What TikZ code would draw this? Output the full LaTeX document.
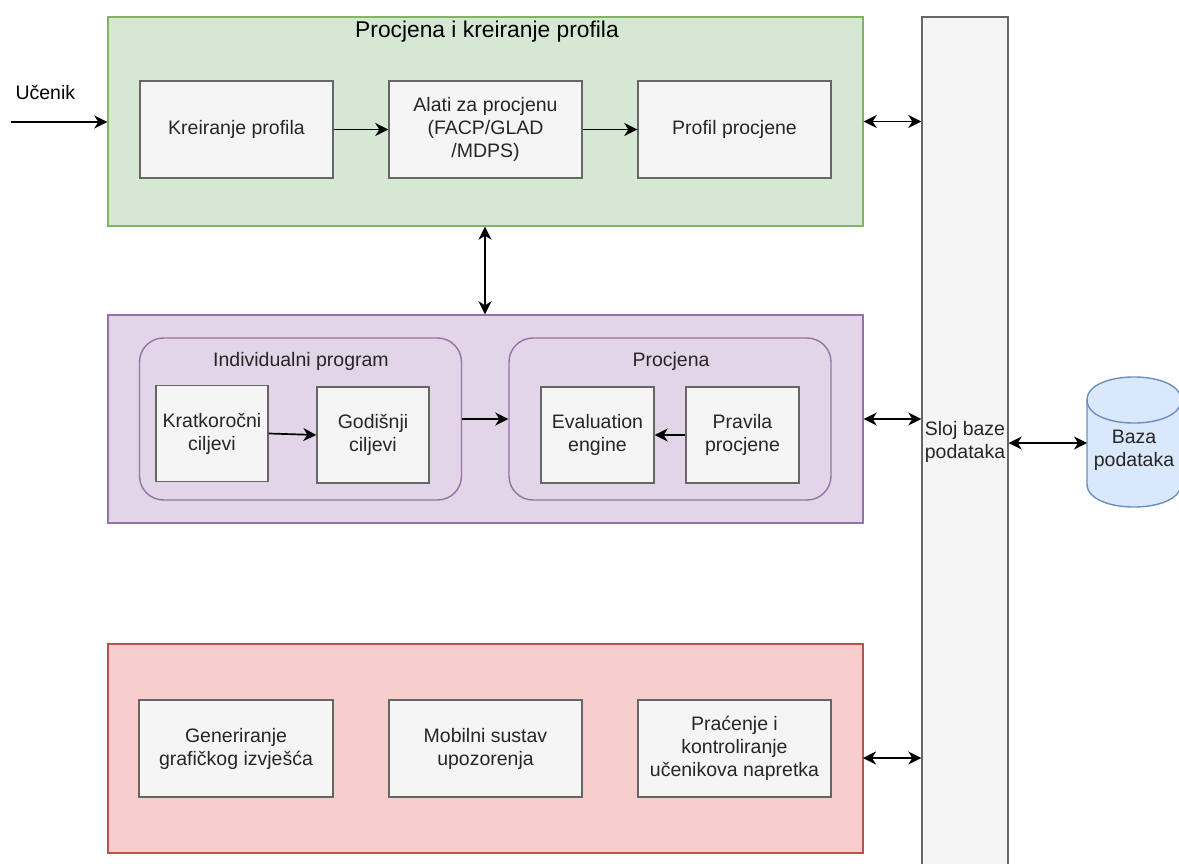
\documentclass[tikz,border=0pt]{standalone}
\usepackage{fontspec}
\setmainfont{Liberation Sans}
\usetikzlibrary{arrows.meta}
\definecolor{gfill}{HTML}{D5E8D4}
\definecolor{gline}{HTML}{82B366}
\definecolor{pfill}{HTML}{E1D5E7}
\definecolor{pline}{HTML}{9673A6}
\definecolor{rfill}{HTML}{F8CECC}
\definecolor{rline}{HTML}{B85450}
\definecolor{boxfill}{HTML}{F5F5F5}
\definecolor{boxline}{HTML}{666666}
\definecolor{boxtext}{HTML}{262626}
\definecolor{cfill}{HTML}{DAE8FC}
\definecolor{cline}{HTML}{6C8EBF}
\begin{document}
\begin{tikzpicture}[x=1pt,y=-1pt,
  txt/.style={font=\fontsize{19.5}{23}\selectfont, text=black},
  box/.style={draw=boxline, fill=boxfill, line width=1.4pt, inner sep=2pt, align=center,
    text=boxtext, font=\fontsize{19.5}{23}\selectfont},
  widebox/.style={box, minimum width=193pt, minimum height=97pt},
  smallbox/.style={box, minimum width=112pt, minimum height=96pt},
  container/.style={line width=1.4pt, minimum width=755pt, minimum height=209pt, inner sep=0pt},
  group/.style={draw=pline, fill=pfill, line width=1.4pt, rounded corners=24pt,
    minimum width=322pt, minimum height=162pt, inner sep=0pt},
  tip/.style={Stealth[length=13pt,width=13pt,inset=4pt]},
  arr/.style={line width=1.7pt, -{Stealth[length=13pt,width=13pt,inset=4pt]}},
  darr/.style={line width=1.7pt, {Stealth[length=13pt,width=13pt,inset=4pt]}-{Stealth[length=13pt,width=13pt,inset=4pt]}}
]
\useasboundingbox (0,0) rectangle (1179,864);
\fill[white] (0,0) rectangle (1179,864);

% containers
\node[container, draw=gline, fill=gfill] (green) at (485.5,121.5) {};
\node[container, draw=pline, fill=pfill, minimum height=208pt] (purple) at (485.5,419) {};
\node[container, draw=rline, fill=rfill] (red) at (485.5,748.5) {};

% database layer
\node[box, minimum width=86pt, minimum height=850pt, inner sep=0pt] (layer) at (965,442) {Sloj baze\\podataka};

% green content
\node[txt, font=\fontsize{22.8}{26}\selectfont] (gtitle) at (487,32) {Procjena i kreiranje profila};
\node[widebox] (kp) at (236.5,129.5) {Kreiranje profila};
\node[widebox] (alati) at (485.5,129.5) {Alati za procjenu\\(FACP/GLAD\\/MDPS)};
\node[widebox] (pp) at (734.5,129.5) {Profil procjene};

% purple content
\node[group] (ip) at (300.5,419) {};
\node[group] (pg) at (670,419) {};
\node[txt, text=boxtext] (iptitle) at (301,361) {Individualni program};
\node[txt, text=boxtext] (pgtitle) at (671,361) {Procjena};
\node[smallbox] (kc) at (212,433.5) {Kratkoročni\\ciljevi};
\node[smallbox] (gc) at (373,435) {Godišnji\\ciljevi};
\node[smallbox, minimum width=113pt] (ee) at (597.5,435) {Evaluation\\engine};
\node[smallbox, minimum width=113pt] (pr) at (742.5,435) {Pravila\\procjene};

% red content
\node[widebox, minimum width=194pt] (gen) at (236,748.5) {Generiranje\\grafičkog izvješća};
\node[widebox] (mob) at (485.5,748.5) {Mobilni sustav\\upozorenja};
\node[widebox] (prac) at (734.5,748.5) {Praćenje i\\kontroliranje\\učenikova napretka};

% cylinder
\draw[draw=cline, fill=cfill, line width=1.4pt]
  (1087,400) -- (1087,484) .. controls (1087,514.7) and (1181,514.7) .. (1181,484)
  -- (1181,400) .. controls (1181,369.3) and (1087,369.3) .. (1087,400) -- cycle;
\draw[draw=cline, line width=1.4pt]
  (1087,400) .. controls (1087,430.7) and (1181,430.7) .. (1181,400);
\node[txt, text=boxtext, align=center] (db) at (1134,450) {Baza\\podataka};
\coordinate (dbw) at (1087,443);

% learner
\node[txt, anchor=west, text=black] (ucenik) at (12,92) {Učenik};
\coordinate (ustart) at (11,122);

% connectors
\draw[arr] (ustart) -- (ustart -| green.west);
\draw[arr] (kp.east) -- (alati.west);
\draw[arr] (alati.east) -- (pp.west);
\draw[darr] (green.east) -- (green.east -| layer.west);
\draw[darr] (green.south -| 485,0) -- (purple.north -| 485,0);
\draw[arr] (kc.east) -- (gc.west);
\draw[arr] (ip.east) -- (pg.west);
\draw[arr] (pr.west) -- (ee.east);
\draw[darr] (purple.east) -- (purple.east -| layer.west);
\coordinate (redarr) at (863,758);
\draw[darr] (redarr) -- (redarr -| layer.west);
\draw[darr] (layer.east |- dbw) -- (dbw);
\end{tikzpicture}
\end{document}
